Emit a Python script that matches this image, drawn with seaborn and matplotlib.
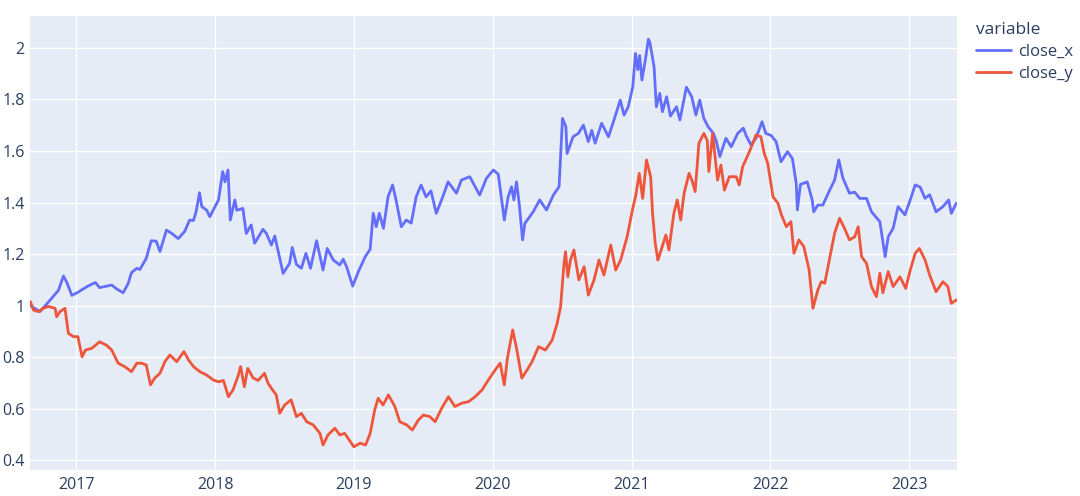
import matplotlib
matplotlib.use("Agg")
import matplotlib.pyplot as plt
import matplotlib.dates as mdates
import seaborn as sns
import pandas as pd

# ---------------- data ----------------
dates_x = [
    "2016-09-02", "2016-09-27", "2016-10-23", "2016-11-15", "2016-11-28", "2016-12-07", "2016-12-20",
    "2017-01-03", "2017-01-29", "2017-02-20", "2017-03-03", "2017-04-04", "2017-04-17", "2017-05-04",
    "2017-05-17", "2017-05-26", "2017-06-09", "2017-06-17", "2017-07-04", "2017-07-17", "2017-07-30",
    "2017-08-09", "2017-08-26", "2017-09-09", "2017-09-26", "2017-10-13", "2017-10-26", "2017-11-05",
    "2017-11-12", "2017-11-21", "2017-11-27", "2017-12-10", "2017-12-18", "2017-12-27",
    "2018-01-10", "2018-01-21", "2018-01-27", "2018-02-04", "2018-02-10", "2018-02-22", "2018-02-27",
    "2018-03-15", "2018-03-24", "2018-04-06", "2018-04-15", "2018-05-07", "2018-05-16", "2018-05-29",
    "2018-06-07", "2018-06-29", "2018-07-16", "2018-07-23", "2018-08-03", "2018-08-16", "2018-08-28",
    "2018-09-09", "2018-09-25", "2018-10-12", "2018-10-23", "2018-11-08", "2018-11-25", "2018-12-04",
    "2018-12-13", "2018-12-29",
    "2019-01-13", "2019-01-31", "2019-02-13", "2019-02-21", "2019-03-01", "2019-03-09", "2019-03-20",
    "2019-04-01", "2019-04-13", "2019-04-22", "2019-05-06", "2019-05-19", "2019-06-01", "2019-06-14",
    "2019-06-27", "2019-07-10", "2019-07-23", "2019-08-06", "2019-08-23", "2019-09-06", "2019-09-28",
    "2019-10-11", "2019-11-02", "2019-11-28", "2019-12-16",
    "2020-01-03", "2020-01-16", "2020-02-01", "2020-02-11", "2020-02-20", "2020-02-26", "2020-03-04",
    "2020-03-11", "2020-03-20", "2020-03-26", "2020-04-17", "2020-05-04", "2020-05-22", "2020-06-09",
    "2020-06-24", "2020-07-03", "2020-07-12", "2020-07-15", "2020-07-31", "2020-08-14", "2020-08-27",
    "2020-09-09", "2020-09-18", "2020-09-27", "2020-10-14", "2020-11-01", "2020-11-14", "2020-12-02",
    "2020-12-12", "2020-12-23",
    "2021-01-04", "2021-01-11", "2021-01-17", "2021-01-22", "2021-01-28", "2021-02-06", "2021-02-14",
    "2021-02-18", "2021-03-01", "2021-03-07", "2021-03-16", "2021-03-23", "2021-04-03", "2021-04-13",
    "2021-04-29", "2021-05-08", "2021-05-25", "2021-06-08", "2021-06-19", "2021-06-29", "2021-07-10",
    "2021-07-21", "2021-08-04", "2021-08-12", "2021-08-21", "2021-09-06", "2021-09-20", "2021-10-07",
    "2021-10-22", "2021-10-29", "2021-11-11", "2021-11-24", "2021-12-10", "2021-12-20",
    "2022-01-03", "2022-01-16", "2022-01-29", "2022-02-15", "2022-02-28", "2022-03-10", "2022-03-13",
    "2022-03-21", "2022-04-08", "2022-04-21", "2022-04-25", "2022-05-06", "2022-05-19", "2022-06-06",
    "2022-06-19", "2022-06-30", "2022-07-11", "2022-07-28", "2022-08-11", "2022-08-24", "2022-09-11",
    "2022-09-24", "2022-10-16", "2022-10-30", "2022-11-07", "2022-11-20", "2022-12-03", "2022-12-21",
    "2023-01-04", "2023-01-17", "2023-01-30", "2023-02-12", "2023-02-24", "2023-03-13", "2023-03-31",
    "2023-04-15", "2023-04-22", "2023-05-05",
]
close_x = [
    1.00, 0.977, 1.02, 1.06, 1.115, 1.09, 1.04,
    1.05, 1.074, 1.09, 1.07, 1.08, 1.065, 1.05,
    1.085, 1.128, 1.145, 1.14, 1.184, 1.252, 1.25,
    1.21, 1.293, 1.28, 1.26, 1.288, 1.332, 1.33,
    1.364, 1.438, 1.384, 1.37, 1.345, 1.37,
    1.41, 1.52, 1.48, 1.526, 1.332, 1.41, 1.37,
    1.377, 1.28, 1.313, 1.242, 1.296, 1.28, 1.235,
    1.27, 1.125, 1.164, 1.226, 1.16, 1.145, 1.203,
    1.145, 1.252, 1.138, 1.222, 1.177, 1.158, 1.18,
    1.151, 1.076,
    1.132, 1.19, 1.219, 1.358, 1.306, 1.358, 1.30,
    1.422, 1.468, 1.41, 1.306, 1.332, 1.32, 1.422,
    1.468, 1.422, 1.445, 1.358, 1.422, 1.48, 1.436,
    1.487, 1.50, 1.429, 1.494,
    1.526, 1.51, 1.332, 1.422, 1.461, 1.41, 1.48,
    1.397, 1.255, 1.319, 1.364, 1.41, 1.371, 1.429,
    1.461, 1.726, 1.694, 1.59, 1.655, 1.668, 1.70,
    1.636, 1.68, 1.63, 1.707, 1.655, 1.713, 1.797,
    1.739, 1.771,
    1.849, 1.978, 1.915, 1.97, 1.875, 1.952, 2.033,
    2.02, 1.926, 1.771, 1.823, 1.752, 1.81, 1.735,
    1.771, 1.72, 1.847, 1.81, 1.739, 1.797, 1.726,
    1.694, 1.668, 1.636, 1.578, 1.649, 1.616, 1.668,
    1.688, 1.66, 1.623, 1.649, 1.713, 1.668,
    1.66, 1.636, 1.558, 1.597, 1.57, 1.474, 1.371,
    1.47, 1.48, 1.41, 1.364, 1.39, 1.39, 1.448,
    1.487, 1.565, 1.494, 1.436, 1.44, 1.416, 1.416,
    1.364, 1.326, 1.19, 1.267, 1.30, 1.384, 1.352,
    1.41, 1.468, 1.46, 1.416, 1.43, 1.364, 1.384,
    1.41, 1.358, 1.397,
]

dates_y = [
    "2016-09-02", "2016-09-10", "2016-09-23", "2016-10-06", "2016-10-19", "2016-11-06", "2016-11-10",
    "2016-11-19", "2016-12-02", "2016-12-11", "2016-12-24",
    "2017-01-05", "2017-01-16", "2017-01-25", "2017-02-11", "2017-03-03", "2017-03-21", "2017-04-04",
    "2017-04-21", "2017-05-08", "2017-05-26", "2017-06-09", "2017-06-21", "2017-07-04", "2017-07-15",
    "2017-07-26", "2017-08-09", "2017-08-22", "2017-09-04", "2017-09-22", "2017-10-11", "2017-10-23",
    "2017-11-05", "2017-11-22", "2017-12-10", "2017-12-27",
    "2018-01-10", "2018-01-23", "2018-02-05", "2018-02-17", "2018-03-02", "2018-03-09", "2018-03-19",
    "2018-03-28", "2018-04-11", "2018-04-24", "2018-05-11", "2018-05-20", "2018-05-29", "2018-06-11",
    "2018-06-20", "2018-07-03", "2018-07-20", "2018-08-03", "2018-08-16", "2018-08-30", "2018-09-16",
    "2018-10-04", "2018-10-12", "2018-10-25", "2018-11-12", "2018-11-25", "2018-12-08", "2018-12-14",
    "2019-01-01", "2019-01-18", "2019-02-01", "2019-02-13", "2019-02-25", "2019-03-06", "2019-03-19",
    "2019-04-02", "2019-04-19", "2019-05-02", "2019-05-20", "2019-06-04", "2019-06-20", "2019-07-03",
    "2019-07-20", "2019-08-03", "2019-08-20", "2019-09-07", "2019-09-24", "2019-10-12", "2019-10-30",
    "2019-11-16", "2019-12-04", "2019-12-21",
    "2020-01-08", "2020-01-21", "2020-02-01", "2020-02-09", "2020-02-23", "2020-03-05", "2020-03-18",
    "2020-04-01", "2020-04-14", "2020-05-01", "2020-05-19", "2020-06-06", "2020-06-19", "2020-06-28",
    "2020-07-07", "2020-07-11", "2020-07-17", "2020-07-24", "2020-08-02", "2020-08-15", "2020-08-29",
    "2020-09-09", "2020-09-24", "2020-10-07", "2020-10-20", "2020-11-07", "2020-11-20", "2020-12-03",
    "2020-12-20",
    "2021-01-03", "2021-01-12", "2021-01-21", "2021-01-30", "2021-02-09", "2021-02-20", "2021-02-25",
    "2021-03-04", "2021-03-11", "2021-03-14", "2021-04-01", "2021-04-09", "2021-04-22", "2021-05-01",
    "2021-05-10", "2021-05-19", "2021-06-01", "2021-06-10", "2021-06-17", "2021-06-27", "2021-07-10",
    "2021-07-19", "2021-07-23", "2021-08-02", "2021-08-15", "2021-08-24", "2021-09-02", "2021-09-15",
    "2021-10-03", "2021-10-11", "2021-10-20", "2021-11-03", "2021-11-16", "2021-11-24", "2021-12-07",
    "2021-12-16", "2021-12-25",
    "2022-01-08", "2022-01-21", "2022-01-30", "2022-02-12", "2022-02-24", "2022-03-04", "2022-03-17",
    "2022-03-30", "2022-04-13", "2022-04-23", "2022-05-06", "2022-05-15", "2022-05-24", "2022-06-06",
    "2022-06-19", "2022-07-02", "2022-07-15", "2022-07-28", "2022-08-11", "2022-08-20", "2022-08-29",
    "2022-09-11", "2022-09-24", "2022-10-07", "2022-10-16", "2022-10-24", "2022-11-07", "2022-11-20",
    "2022-12-08", "2022-12-23",
    "2023-01-04", "2023-01-17", "2023-01-28", "2023-02-12", "2023-02-24", "2023-03-13", "2023-03-31",
    "2023-04-13", "2023-04-22", "2023-05-05",
]
close_y = [
    1.016, 0.983, 0.977, 0.99, 0.997, 0.99, 0.957,
    0.977, 0.99, 0.893, 0.88,
    0.88, 0.802, 0.828, 0.835, 0.86, 0.847, 0.828,
    0.777, 0.764, 0.744, 0.777, 0.777, 0.77, 0.693,
    0.719, 0.738, 0.783, 0.809, 0.783, 0.822, 0.79,
    0.764, 0.744, 0.731, 0.712,
    0.705, 0.71, 0.647, 0.673, 0.725, 0.764, 0.686,
    0.757, 0.72, 0.71, 0.738, 0.70, 0.68, 0.654,
    0.583, 0.615, 0.635, 0.57, 0.583, 0.55, 0.538,
    0.505, 0.46, 0.499, 0.525, 0.499, 0.505, 0.492,
    0.453, 0.467, 0.46, 0.505, 0.596, 0.641, 0.615,
    0.654, 0.609, 0.55, 0.538, 0.518, 0.557, 0.576,
    0.57, 0.55, 0.602, 0.647, 0.609, 0.622, 0.628,
    0.647, 0.673, 0.712,
    0.751, 0.777, 0.693, 0.796, 0.906, 0.828, 0.719,
    0.751, 0.783, 0.841, 0.828, 0.867, 0.932, 0.996,
    1.164, 1.209, 1.112, 1.177, 1.216, 1.10, 1.151,
    1.041, 1.10, 1.177, 1.119, 1.235, 1.138, 1.177,
    1.267,
    1.371, 1.429, 1.513, 1.416, 1.565, 1.50, 1.358,
    1.242, 1.177, 1.19, 1.274, 1.216, 1.358, 1.41,
    1.332, 1.436, 1.513, 1.48, 1.442, 1.63, 1.668,
    1.64, 1.52, 1.668, 1.487, 1.545, 1.448, 1.50,
    1.50, 1.468, 1.539, 1.584, 1.63, 1.662, 1.655,
    1.59, 1.552,
    1.422, 1.397, 1.352, 1.306, 1.326, 1.203, 1.255,
    1.229, 1.138, 0.99, 1.061, 1.093, 1.087, 1.184,
    1.281, 1.339, 1.30, 1.255, 1.267, 1.306, 1.19,
    1.164, 1.074, 1.035, 1.126, 1.05, 1.132, 1.074,
    1.112, 1.067,
    1.138, 1.203, 1.222, 1.177, 1.119, 1.054, 1.093,
    1.074, 1.009, 1.022,
]

series_names = ["close_x", "close_y"]
series_colors = ["#636EFA", "#EF553B"]
year_ticks = ["2017", "2018", "2019", "2020", "2021", "2022", "2023"]
y_ticks = [0.4, 0.6, 0.8, 1.0, 1.2, 1.4, 1.6, 1.8, 2.0]
y_tick_labels = ["0.4", "0.6", "0.8", "1", "1.2", "1.4", "1.6", "1.8", "2"]

df = pd.concat([
    pd.DataFrame({"date": pd.to_datetime(dates_x), "value": close_x, "variable": series_names[0]}),
    pd.DataFrame({"date": pd.to_datetime(dates_y), "value": close_y, "variable": series_names[1]}),
], ignore_index=True)

# ---------------- styling ----------------
sns.set_theme(style="darkgrid", rc={
    "axes.facecolor": "#E5ECF6",
    "figure.facecolor": "white",
    "grid.color": "white",
    "grid.linewidth": 1.0,
})
plt.rcParams["font.family"] = ["Open Sans", "DejaVu Sans"]
text_color = "#2a3f5f"

fig = plt.figure(figsize=(10.8, 4.96), dpi=100)
ax = fig.add_axes([30 / 1080, 1 - 470 / 496, 927 / 1080, 454 / 496])

sns.lineplot(data=df, x="date", y="value", hue="variable",
             palette=dict(zip(series_names, series_colors)),
             estimator=None, sort=True, linewidth=2.0, ax=ax, legend=True)

ax.set_xlim(pd.Timestamp("2016-09-01"), pd.Timestamp("2023-05-07"))
ax.set_ylim(0.363, 2.123)
ax.set_xticks([pd.Timestamp(f"{y}-01-01") for y in year_ticks])
ax.set_xticklabels(year_ticks)
ax.set_yticks(y_ticks)
ax.set_yticklabels(y_tick_labels)
ax.tick_params(axis="both", length=0, labelsize=11.5, colors=text_color)
ax.tick_params(axis="y", pad=4)
ax.tick_params(axis="x", pad=5)
ax.set_xlabel("")
ax.set_ylabel("")
for s in ax.spines.values():
    s.set_visible(False)
ax.grid(True, color="white", linewidth=1.0)

handles, labels = ax.get_legend_handles_labels()
ax.get_legend().remove()
leg = fig.legend(handles, labels, title="variable", loc="upper left",
                 bbox_to_anchor=(976 / 1080, 1 - 22 / 496), bbox_transform=fig.transFigure,
                 frameon=False, borderpad=0, borderaxespad=0,
                 handlelength=2.1, handletextpad=0.45, labelspacing=0.35,
                 fontsize=12, title_fontsize=12.5, alignment="left")
for t in leg.get_texts():
    t.set_color(text_color)
leg.get_title().set_color(text_color)
for h in leg.legend_handles:
    h.set_linewidth(2.0)

fig.savefig("out.png", dpi=100)
